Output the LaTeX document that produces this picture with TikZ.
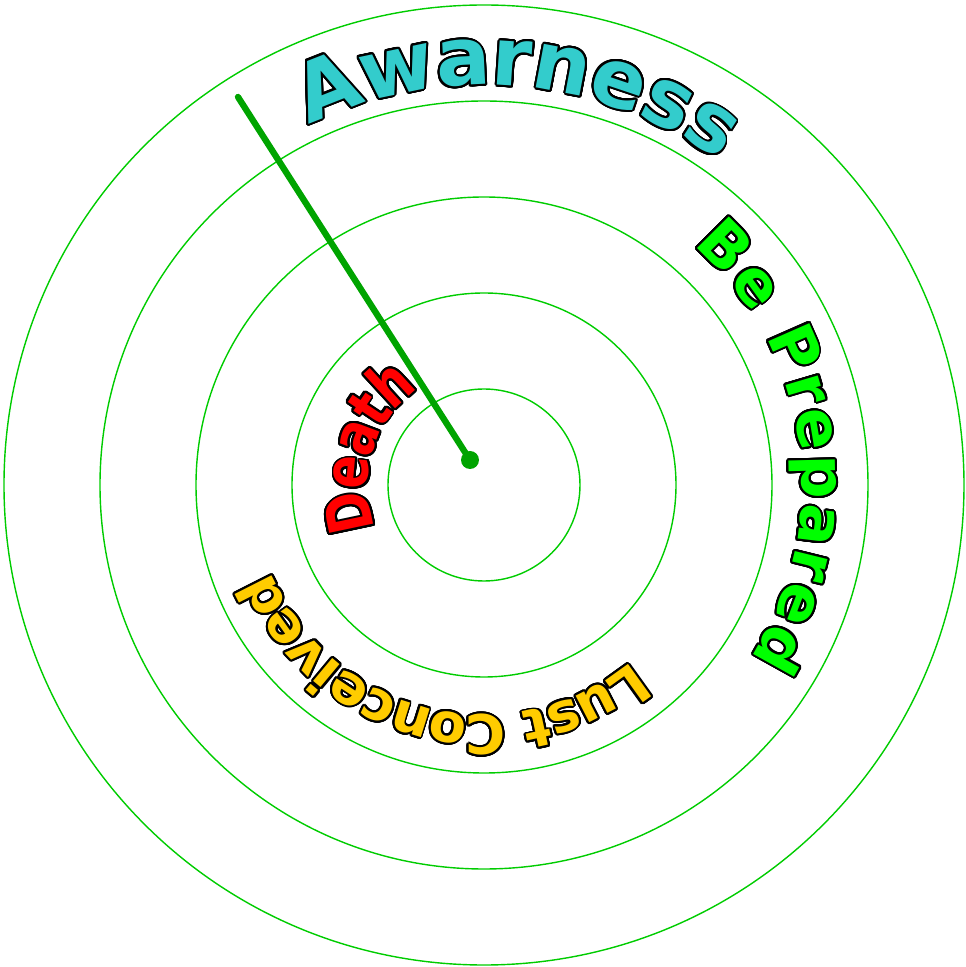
\documentclass[tikz,border=0pt]{standalone}
\usepackage{fontspec}
\usepackage{contour}
\newfontfamily\ringfont{DejaVu Sans Bold}
\newfontfamily\narrowfont{DejaVu Sans Bold}[FakeStretch=0.8]
\usetikzlibrary{decorations.text}
\contourlength{1.1pt}
\contournumber{32}
\definecolor{ringgreen}{HTML}{00CC00}
\definecolor{needlegreen}{HTML}{00A400}
\definecolor{awarecol}{HTML}{33CCCC}
\definecolor{prepcol}{HTML}{00FF00}
\definecolor{lustcol}{HTML}{FFCC00}
\definecolor{deathcol}{HTML}{FF0000}
\newcommand\ringletter[1]{\contour{black}{#1}}
\begin{document}
\begin{tikzpicture}[x=0.2mm,y=0.2mm,ring/.style={draw=ringgreen,line width=0.8pt},needle/.style={needlegreen,line width=3.6pt,line cap=round},ringtext/.style n args={3}{decorate,decoration={text effects along path,text={#1},text effects/.cd,text along path,fit text to path,character command=\ringletter,characters={text=#2,font=#3}}}]
\useasboundingbox (-484,-482) rectangle (482,485);
\foreach \rad in {96,192,288,384,480} \draw[ring] (0,0) circle[radius=\rad];
\path[ringtext={Awarness}{awarecol}{\ringfont\fontsize{46}{46}\selectfont}] (116:400) arc[start angle=116,end angle=54,radius=400];
\path[ringtext={Be Prepared}{prepcol}{\ringfont\fontsize{35}{35}\selectfont}] (49:318) arc[start angle=49,end angle=-33,radius=318];
\path[ringtext={Lust Conceived}{lustcol}{\ringfont\fontsize{31}{31}\selectfont}] (-50:230) arc[start angle=-50,end angle=-158,radius=230];
\path[ringtext={Death}{deathcol}{\narrowfont\fontsize{35}{35}\selectfont}] (202:116) arc[start angle=202,end angle=124,radius=116];
\coordinate (hub) at (-14,25);
\coordinate (tip) at (-246,388);
\draw[needle] (tip) -- (hub);
\fill[needlegreen] (hub) circle[radius=9];
\end{tikzpicture}
\end{document}
